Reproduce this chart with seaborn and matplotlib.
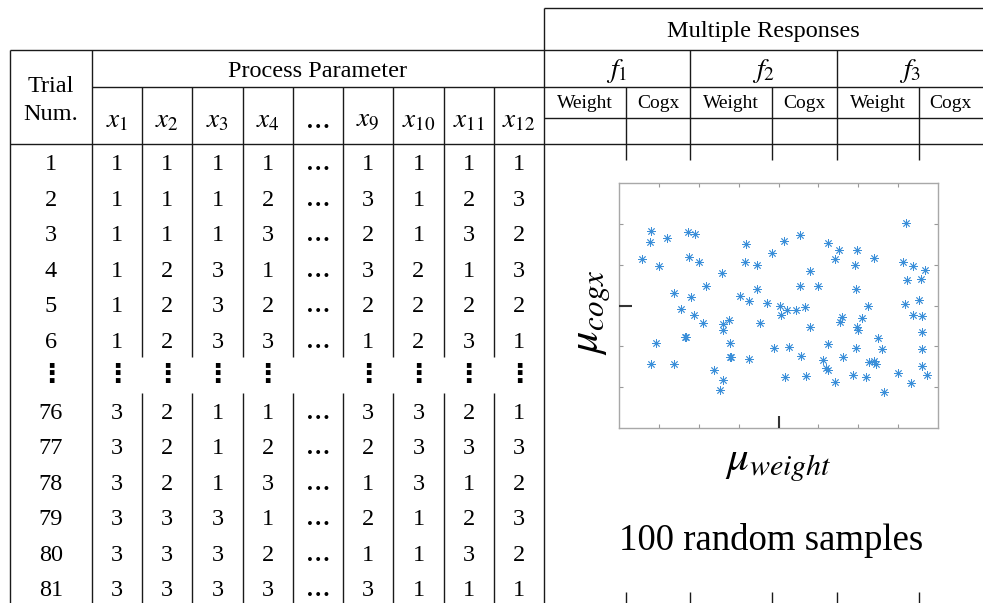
import numpy as np
import pandas as pd
import matplotlib
matplotlib.use("Agg")
import matplotlib.pyplot as plt
import seaborn as sns

# ---------------- data ----------------
trial_labels = ["1", "2", "3", "4", "5", "6", "⋮", "76", "77", "78", "79", "80", "81"]
param_labels = ["$x_1$", "$x_2$", "$x_3$", "$x_4$", "…", "$x_9$", "$x_{10}$", "$x_{11}$", "$x_{12}$"]
# levels of each parameter for trials 1-6 and 76-81
x1_levels = [1, 1, 1, 1, 1, 1, 3, 3, 3, 3, 3, 3]
x2_levels = [1, 1, 1, 2, 2, 2, 2, 2, 2, 3, 3, 3]
x3_levels = [1, 1, 1, 3, 3, 3, 1, 1, 1, 3, 3, 3]
x4_levels = [1, 2, 3, 1, 2, 3, 1, 2, 3, 1, 2, 3]
x9_levels = [1, 3, 2, 3, 2, 1, 3, 2, 1, 2, 1, 3]
x10_levels = [1, 1, 1, 2, 2, 2, 3, 3, 3, 1, 1, 1]
x11_levels = [1, 2, 3, 1, 2, 3, 2, 3, 1, 2, 3, 1]
x12_levels = [1, 3, 2, 3, 2, 1, 1, 3, 2, 3, 2, 1]
response_groups = ["$f_1$", "$f_2$", "$f_3$"]
response_sub = ["Weight", "Cogx"]

# 100 random samples (mu_weight, mu_cogx)
mu_weight = [0.80, 0.77, 1.20, 0.56, 0.99, 1.73, 1.91, 1.75, 1.99, 3.19,
             3.17, 3.47, 2.58, 2.17, 1.38, 1.80, 3.83, 4.14, 4.55, 5.25,
             5.53, 5.42, 5.97, 5.92, 6.40, 4.79, 4.55, 4.99, 5.94, 3.47,
             3.04, 3.27, 3.72, 4.03, 4.07, 4.22, 4.44, 4.67, 7.20, 7.13,
             7.37, 7.67, 7.23, 7.59, 7.19, 7.52, 7.37, 7.61, 7.61, 7.60,
             7.61, 7.73, 7.34, 7.01, 6.65, 6.60, 6.51, 6.25, 6.11, 5.60,
             5.54, 5.96, 6.01, 5.95, 5.62, 5.25, 5.11, 5.20, 5.24, 5.42,
             5.86, 6.21, 6.28, 6.40, 6.45, 4.79, 4.56, 4.27, 3.88, 4.16,
             4.68, 3.53, 3.27, 2.75, 2.60, 2.60, 2.77, 2.77, 2.81, 2.37,
             2.61, 2.53, 1.56, 1.88, 2.10, 1.64, 1.67, 0.92, 0.80, 1.38]
mu_cogx = [4.83, 4.57, 4.66, 4.15, 3.96, 4.80, 4.75, 4.18, 4.08, 4.52,
           4.06, 3.99, 3.79, 3.48, 3.31, 3.21, 4.30, 4.58, 4.73, 4.53,
           4.37, 4.15, 4.37, 3.99, 4.17, 3.85, 3.49, 3.48, 3.40, 3.40,
           3.23, 3.10, 3.07, 2.99, 2.77, 2.90, 2.90, 2.96, 5.03, 4.06,
           3.97, 3.86, 3.63, 3.64, 3.04, 3.13, 2.76, 2.74, 2.35, 1.93,
           1.51, 1.30, 1.09, 1.35, 0.88, 1.94, 2.19, 2.99, 2.70, 2.71,
           2.59, 2.46, 2.40, 1.96, 1.74, 2.05, 1.66, 1.47, 1.41, 1.12,
           1.29, 1.25, 1.61, 1.64, 1.56, 2.48, 1.77, 1.98, 1.96, 1.24,
           1.28, 2.58, 1.69, 2.65, 2.55, 2.39, 2.07, 1.73, 1.73, 1.42,
           1.17, 0.93, 2.92, 2.76, 2.58, 2.23, 2.23, 2.07, 1.57, 1.57]

samples = pd.DataFrame({"mu_weight": mu_weight, "mu_cogx": mu_cogx})
param_columns = [x1_levels, x2_levels, x3_levels, x4_levels, None,
                 x9_levels, x10_levels, x11_levels, x12_levels]

# ---------------- figure ----------------
sns.set_theme(style="white")
plt.rcParams["font.family"] = ["Liberation Serif", "DejaVu Sans"]
plt.rcParams["mathtext.fontset"] = "stix"
plt.rcParams["text.color"] = "black"

W, H = 983, 603
fig = plt.figure(figsize=(W / 100, H / 100), dpi=100)
fig.patch.set_facecolor("white")

ax_t = fig.add_axes([0, 0, 1, 1])
ax_t.set_xlim(0, W)
ax_t.set_ylim(H, 0)
ax_t.axis("off")

lc = "#1a1a1a"
lw = 1.0
left, trial_right, table_right = 10, 92, 544
col_w = (table_right - trial_right) / 9
y_top_r, y_h1, y_h2, y_h3, y_body = 8, 50, 87, 118, 144
row0, row_h = 162, 35.5
grp_w = (W - table_right) / 3
sub_w = 82

def hl(y, x0, x1):
    ax_t.plot([x0, x1], [y, y], color=lc, lw=lw, solid_capstyle="butt")

def vl(x, y0, y1):
    ax_t.plot([x, x], [y0, y1], color=lc, lw=lw, solid_capstyle="butt")

# horizontal rules
hl(y_top_r, table_right, W)
hl(y_h1, left, W)
hl(y_h2, trial_right, W)
hl(y_h3, table_right, W)
hl(y_body, left, W)
# vertical rules
vl(left, y_h1, H)
vl(trial_right, y_h1, H)
vl(table_right, y_top_r, H)
dots_idx = trial_labels.index("⋮")
gap0 = row0 + (dots_idx - 0.5) * row_h
gap1 = row0 + (dots_idx + 0.5) * row_h
for k in range(1, 9):
    x = trial_right + k * col_w
    vl(x, y_h2, gap0)
    vl(x, gap1, H)
for g in range(3):
    gx = table_right + g * grp_w
    if g > 0:
        vl(gx, y_h1, 160)
        vl(gx, 592, H)
    vl(gx + sub_w, y_h2, 160)
    vl(gx + sub_w, 592, H)

fs = 17.5
# header text
ax_t.text((left + trial_right) / 2, 92, "Trial", ha="center", va="baseline", fontsize=fs)
ax_t.text((left + trial_right) / 2, 120, "Num.", ha="center", va="baseline", fontsize=fs)
ax_t.text((trial_right + table_right) / 2, 77, "Process Parameter", ha="center", va="baseline", fontsize=fs)
for i, lab in enumerate(param_labels):
    cx = trial_right + (i + 0.5) * col_w
    if lab == "…":
        ax_t.text(cx, 128, lab, ha="center", va="baseline", fontsize=fs, fontweight="bold")
    else:
        ax_t.text(cx, 121, lab, ha="center", va="center", fontsize=19.5)
ax_t.text((table_right + W) / 2, 37, "Multiple Responses", ha="center", va="baseline", fontsize=fs)
for g, lab in enumerate(response_groups):
    gx = table_right + g * grp_w
    ax_t.text(gx + grp_w / 2, 71, lab, ha="center", va="center", fontsize=20)
    ax_t.text(gx + sub_w / 2, 104, response_sub[0], ha="center", va="center", fontsize=14)
    ax_t.text(gx + sub_w + (grp_w - sub_w) / 2, 104, response_sub[1], ha="center", va="center", fontsize=14)

# body text
body_rows = [i for i, t in enumerate(trial_labels) if t != "⋮"]
for r, tl in enumerate(trial_labels):
    yc = row0 + r * row_h
    yb = yc + 8.3
    if tl == "⋮":
        ax_t.text((left + trial_right) / 2, yc, "⋮", ha="center", va="center",
                  fontsize=19, fontweight="bold", family=["DejaVu Sans"])
        for i, col in enumerate(param_columns):
            if col is None:
                continue
            cx = trial_right + (i + 0.5) * col_w
            ax_t.text(cx, yc, "⋮", ha="center", va="center",
                      fontsize=19, fontweight="bold", family=["DejaVu Sans"])
        continue
    ax_t.text((left + trial_right) / 2, yb, tl, ha="center", va="baseline", fontsize=fs)
    vi = body_rows.index(r)
    for i, col in enumerate(param_columns):
        cx = trial_right + (i + 0.5) * col_w
        if col is None:
            ax_t.text(cx, yb, "…", ha="center", va="baseline", fontsize=fs, fontweight="bold")
        else:
            ax_t.text(cx, yb, str(col[vi]), ha="center", va="baseline", fontsize=fs)

# ---------------- scatter inset ----------------
bx0, bx1, by0, by1 = 619.3, 937.7, 183.3, 427.7
rect = [bx0 / W, 1 - by1 / H, (bx1 - bx0) / W, (by1 - by0) / H]
ax = fig.add_axes(rect)
sns.scatterplot(data=samples, x="mu_weight", y="mu_cogx", ax=ax,
                marker=(8, 2, 0), s=32, color="#3b8fd9", linewidth=0.6, legend=False)
ax.set_xlim(0, 8)
ax.set_ylim(0, 6)
ax.set_xticks(range(1, 8))
ax.set_yticks(range(1, 6))
ax.set_xticklabels([])
ax.set_yticklabels([])
ax.set_xlabel("")
ax.set_ylabel("")
ax.tick_params(direction="in", length=3, width=0.8, color="#9a9a9a",
               top=True, right=True, bottom=True, left=True)
for sp in ax.spines.values():
    sp.set_color("#a8a8a8")
    sp.set_linewidth(1.0)
ax.set_facecolor("white")

ax2 = fig.add_axes(rect)
ax2.set_xlim(0, 8)
ax2.set_ylim(0, 6)
ax2.patch.set_visible(False)
for sp in ax2.spines.values():
    sp.set_visible(False)
ax2.set_xticks([4])
ax2.set_yticks([3])
ax2.set_xticklabels([])
ax2.set_yticklabels([])
ax2.tick_params(direction="in", length=9, width=1.5, color="#333333",
                top=False, right=False, bottom=True, left=True)

ax_t.text(592, 312, r"$\mu_{cogx}$", ha="center", va="center", rotation=90, fontsize=32)
ax_t.text(778, 465, r"$\mu_{weight}$", ha="center", va="center", fontsize=31)
ax_t.text(771, 541, "100 random samples", ha="center", va="center", fontsize=26.5)

fig.savefig("out.png", dpi=100, facecolor="white")
